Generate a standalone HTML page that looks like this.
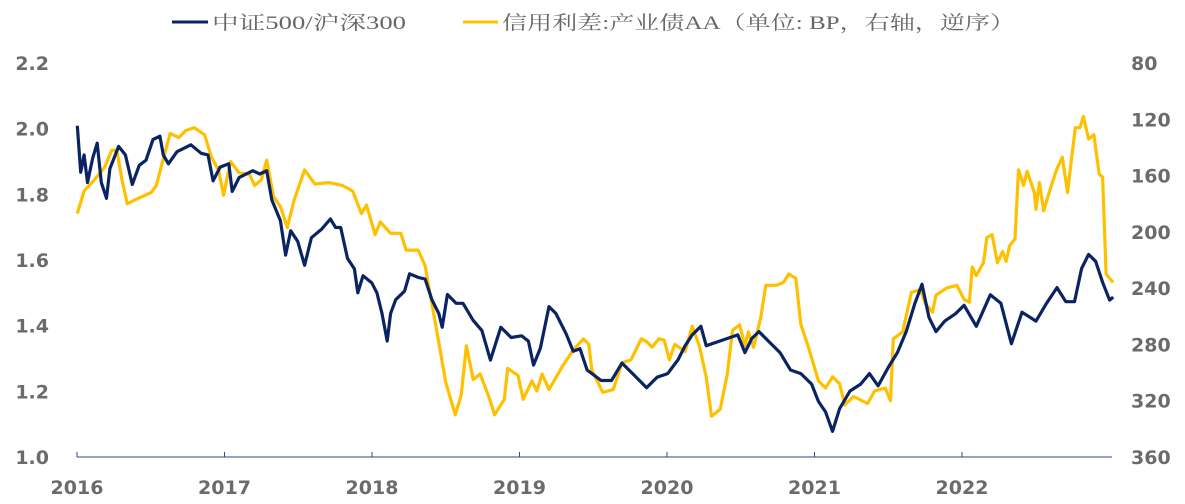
<!DOCTYPE html>
<html><head><meta charset="utf-8"><style>
body{margin:0;background:#fff;}
svg{display:block;}
.tick{font-family:"DejaVu Sans","Liberation Sans",sans-serif;font-weight:bold;font-size:19px;fill:#6b6b6b;}
.leg{font-family:"Liberation Serif","Noto Serif CJK SC",serif;font-size:19px;fill:#666;}
</style></head><body>
<svg id="chart" width="1185" height="504" xmlns="http://www.w3.org/2000/svg">
<g id="legend">
  <line x1="172" y1="22" x2="208" y2="22" stroke="#0a2463" stroke-width="3"/>
  <text class="leg" x="212" y="29" textLength="194" lengthAdjust="spacingAndGlyphs">中证500/沪深300</text>
  <line x1="463" y1="22" x2="498" y2="22" stroke="#ffc000" stroke-width="3"/>
  <text class="leg" x="502" y="29" textLength="513" lengthAdjust="spacingAndGlyphs">信用利差:产业债AA（单位: BP，右轴，逆序）</text>
</g>
<g id="axes"></g>
<g id="series"></g>
</svg>
<script>
const leftTicks = [1.0, 1.2, 1.4, 1.6, 1.8, 2.0, 2.2];
const leftTickLabels = ["1.0","1.2","1.4","1.6","1.8","2.0","2.2"];
const rightTicks = [80,120,160,200,240,280,320,360];
const yearLabels = ["2016","2017","2018","2019","2020","2021","2022"];
const navyT = [0.002,0.025,0.048,0.071,0.106,0.137,0.165,0.200,0.223,0.282,0.328,0.375,0.422,0.468,0.515,0.562,0.585,0.620,0.678,0.772,0.842,0.888,0.923,0.970,1.029,1.052,1.099,1.192,1.239,1.286,1.321,1.379,1.414,1.449,1.496,1.543,1.589,1.659,1.718,1.753,1.788,1.834,1.881,1.904,1.939,1.998,2.033,2.068,2.103,2.126,2.161,2.220,2.255,2.313,2.360,2.406,2.453,2.476,2.511,2.570,2.617,2.686,2.745,2.803,2.873,2.943,3.014,3.060,3.095,3.142,3.200,3.247,3.317,3.364,3.410,3.458,3.553,3.624,3.695,3.767,3.862,3.933,4.005,4.076,4.123,4.171,4.230,4.266,4.337,4.409,4.480,4.528,4.575,4.623,4.694,4.766,4.837,4.908,4.980,5.027,5.075,5.122,5.170,5.241,5.313,5.372,5.431,5.503,5.562,5.622,5.681,5.729,5.776,5.824,5.883,5.955,6.014,6.097,6.192,6.264,6.335,6.407,6.502,6.573,6.644,6.704,6.763,6.811,6.858,6.906,6.953,7.001,7.025];
const navyV = [2.009,1.867,1.920,1.836,1.909,1.956,1.836,1.788,1.878,1.946,1.920,1.830,1.888,1.904,1.967,1.977,1.920,1.893,1.930,1.951,1.925,1.920,1.841,1.883,1.893,1.809,1.851,1.872,1.862,1.872,1.783,1.720,1.615,1.689,1.657,1.584,1.668,1.694,1.725,1.699,1.699,1.605,1.573,1.500,1.552,1.531,1.500,1.437,1.353,1.437,1.479,1.505,1.558,1.547,1.542,1.479,1.437,1.395,1.495,1.468,1.468,1.416,1.385,1.295,1.395,1.364,1.369,1.353,1.280,1.332,1.458,1.437,1.374,1.322,1.330,1.265,1.233,1.233,1.286,1.254,1.211,1.243,1.254,1.297,1.339,1.372,1.398,1.339,1.350,1.361,1.372,1.318,1.361,1.382,1.350,1.318,1.265,1.254,1.222,1.169,1.137,1.078,1.147,1.201,1.222,1.254,1.217,1.275,1.318,1.382,1.468,1.526,1.425,1.382,1.414,1.436,1.462,1.398,1.494,1.468,1.345,1.441,1.414,1.468,1.516,1.473,1.473,1.574,1.617,1.596,1.532,1.478,1.487];
const spreadT = [0.002,0.048,0.118,0.188,0.235,0.270,0.305,0.340,0.398,0.503,0.538,0.585,0.632,0.690,0.737,0.795,0.865,0.912,0.959,0.994,1.041,1.099,1.169,1.204,1.250,1.286,1.332,1.379,1.426,1.473,1.543,1.613,1.706,1.799,1.869,1.928,1.963,2.021,2.056,2.126,2.196,2.231,2.313,2.360,2.430,2.500,2.565,2.605,2.640,2.686,2.733,2.792,2.831,2.897,2.920,2.990,3.025,3.084,3.118,3.153,3.200,3.294,3.364,3.434,3.470,3.490,3.565,3.636,3.695,3.755,3.826,3.862,3.898,3.945,3.981,4.016,4.052,4.123,4.171,4.219,4.266,4.302,4.361,4.409,4.444,4.492,4.528,4.552,4.587,4.635,4.670,4.742,4.789,4.825,4.873,4.908,4.956,5.027,5.075,5.122,5.170,5.205,5.265,5.360,5.408,5.479,5.515,5.534,5.598,5.657,5.717,5.752,5.800,5.824,5.895,5.966,6.014,6.050,6.069,6.097,6.145,6.169,6.204,6.240,6.276,6.299,6.323,6.359,6.383,6.418,6.442,6.490,6.502,6.525,6.554,6.597,6.644,6.680,6.716,6.740,6.768,6.799,6.823,6.858,6.894,6.930,6.953,6.977,7.025];
const spreadV = [187,171,163,154,142,142,163,180,177,172,167,148,130,133,128,126,131,147,156,174,150,158,159,167,163,149,175,182,197,177,156,166,165,167,171,187,181,202,193,201,201,213,213,224,265,307,330,316,281,305,301,317,330,319,297,302,319,306,313,301,312,295,284,276,280,298,314,312,293,291,276,278,282,276,277,291,280,285,267,281,303,331,326,301,270,266,281,271,282,261,238,238,236,230,233,266,281,306,311,303,308,323,317,322,313,311,320,276,271,243,241,251,257,245,240,238,248,250,225,231,222,204,202,222,214,221,210,205,156,167,157,172,184,165,185,170,155,147,172,150,126,126,118,134,131,159,161,230,236];

const NS='http://www.w3.org/2000/svg';
const X0=77, PXY=147.5, YT=63, YB=457;
const xs = t => X0 + t*PXY;
const yL = v => YT + (2.2 - v)/1.2*(YB-YT);
const yR = r => YT + (r-80)/280*(YB-YT);
function mk(tag, attrs, parent){const e=document.createElementNS(NS,tag);for(const k in attrs)e.setAttribute(k,attrs[k]);parent.appendChild(e);return e;}
const axes=document.getElementById('axes');
const line=mk('line',{x1:X0,y1:YB,x2:1112,y2:YB,stroke:'#2f4a8a','stroke-width':1},axes);


yearLabels.forEach((lab,i)=>{
  const tk=mk('line',{x1:xs(i),y1:YB-5,x2:xs(i),y2:YB,stroke:'#2f4a8a','stroke-width':1},axes);
  
  
  const t=mk('text',{x:xs(i),y:494,'text-anchor':'middle',class:'tick'},axes);
  t.textContent=lab;
  
  
});
leftTicks.forEach((v,i)=>{
  const t=mk('text',{x:49,y:yL(v)+7,'text-anchor':'end',class:'tick'},axes);
  t.textContent=leftTickLabels[i];
  
  
});
rightTicks.forEach(r=>{
  const t=mk('text',{x:1131,y:yR(r)+7,'text-anchor':'start',class:'tick'},axes);
  t.textContent=String(r);
  
  
});
const ser=document.getElementById('series');
const pY=spreadT.map((t,i)=>xs(t).toFixed(1)+','+yR(spreadV[i]).toFixed(1)).join(' ');
const py=mk('polyline',{points:pY,fill:'none',stroke:'#ffc000','stroke-width':3.2,'stroke-linejoin':'round'},ser);


const pN=navyT.map((t,i)=>xs(t).toFixed(1)+','+yL(navyV[i]).toFixed(1)).join(' ');
const pn=mk('polyline',{points:pN,fill:'none',stroke:'#0a2463','stroke-width':3.2,'stroke-linejoin':'round'},ser);


</script>
</body></html>
